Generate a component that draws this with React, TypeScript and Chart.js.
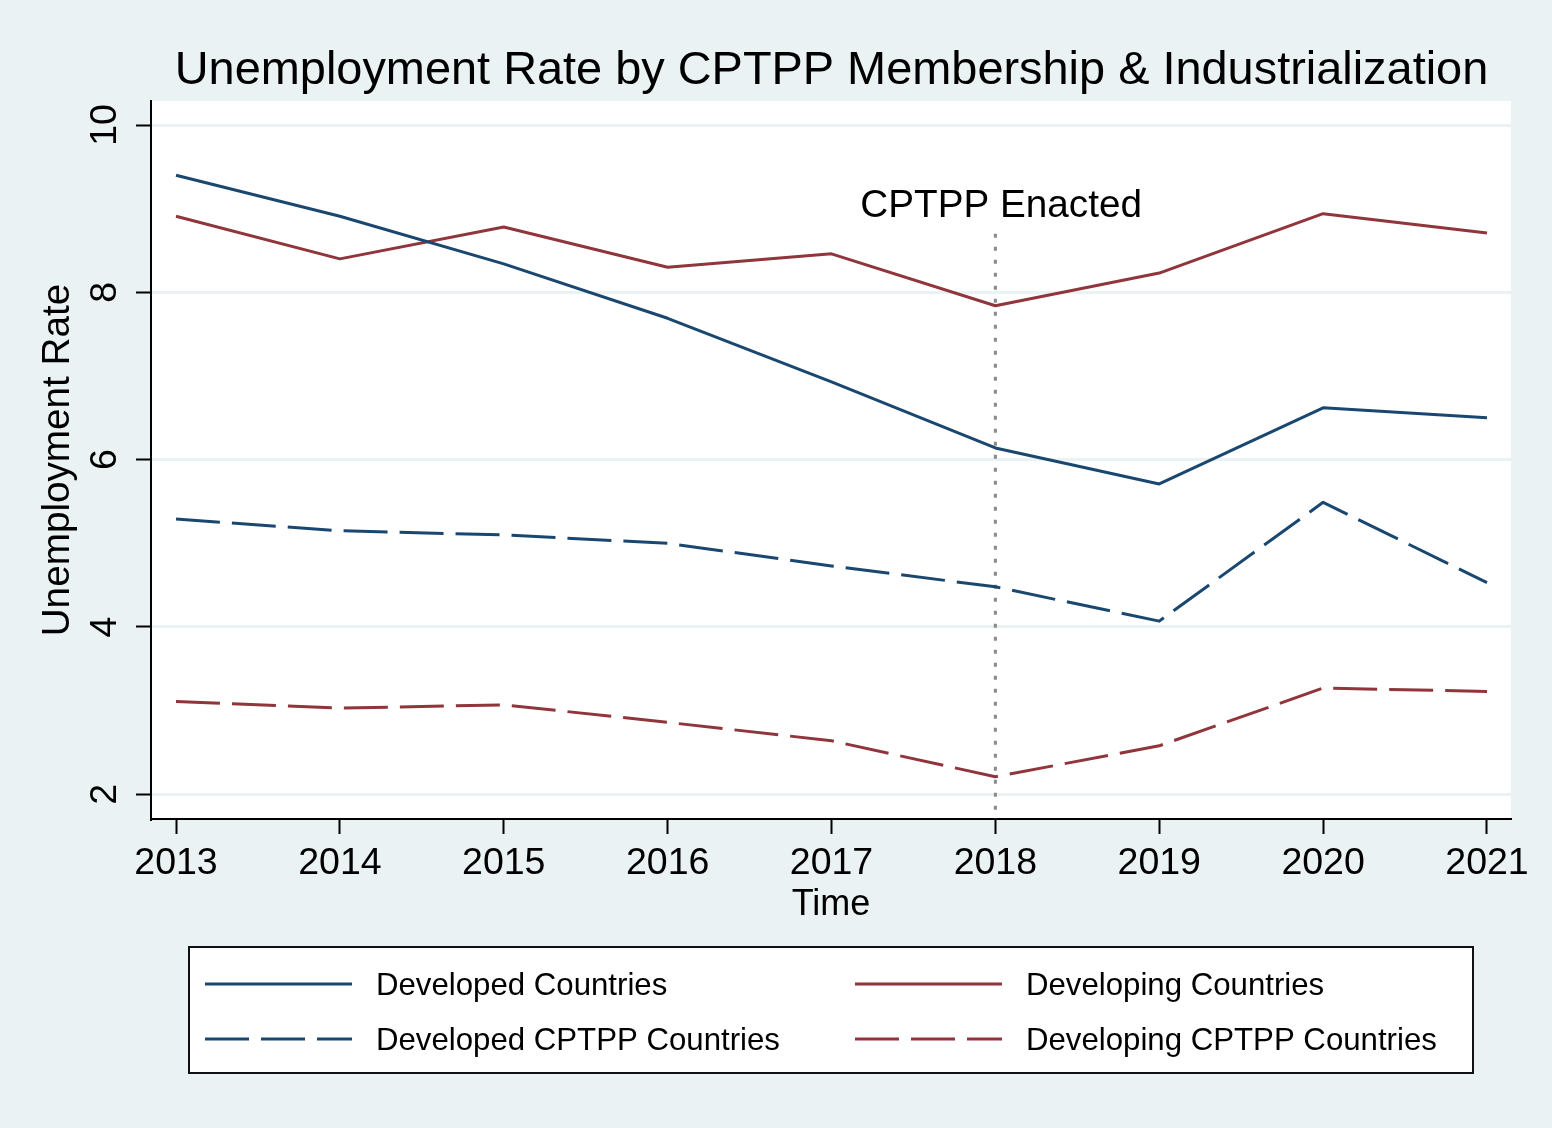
import React, { useEffect, useRef } from "react";
import { Chart, registerables } from "chart.js";

Chart.register(...registerables);

// ---------------- data ----------------
const years = [2013, 2014, 2015, 2016, 2017, 2018, 2019, 2020, 2021];
const developed = [9.4, 8.91, 8.34, 7.69, 6.93, 6.14, 5.71, 6.62, 6.5];
const developing = [8.91, 8.4, 8.78, 8.3, 8.46, 7.84, 8.23, 8.94, 8.71];
const developedCptpp = [5.29, 5.15, 5.1, 5.0, 4.73, 4.48, 4.07, 5.49, 4.53];
const developingCptpp = [3.11, 3.03, 3.07, 2.86, 2.64, 2.21, 2.58, 3.27, 3.23];

const seriesLabels = [
  "Developed Countries",
  "Developing Countries",
  "Developed CPTPP Countries",
  "Developing CPTPP Countries",
];
const yTickValues = [2, 4, 6, 8, 10];
const xTickValues = years;

const titleText = "Unemployment Rate by CPTPP Membership & Industrialization";
const xTitleText = "Time";
const yTitleText = "Unemployment Rate";

const enactYear = 2018;
const enactLineTop = 8.7;
const enactLabel = "CPTPP Enacted";
const enactLabelX = 2018.035;
const enactLabelY = 8.9;

// ---------------- styles ----------------
const FONT = "'Liberation Sans', Arial, Helvetica, sans-serif";
const NAVY = "#1a476f";
const MAROON = "#90353b";
const BG = "#eaf2f3";
const DASH = [44, 12];

const bgPlugin = {
  id: "bgPlugin",
  beforeDraw(chart: any) {
    const { ctx, chartArea } = chart;
    ctx.save();
    ctx.fillStyle = BG;
    ctx.fillRect(0, 0, chart.width, chart.height);
    ctx.fillStyle = "#ffffff";
    ctx.fillRect(
      chartArea.left,
      chartArea.top,
      chartArea.right - chartArea.left,
      chartArea.bottom - chartArea.top
    );
    ctx.restore();
  },
};

const enactPlugin = {
  id: "enactPlugin",
  beforeDatasetsDraw(chart: any) {
    const { ctx, scales, chartArea } = chart;
    const x = scales.x.getPixelForValue(enactYear);
    const yTop = scales.y.getPixelForValue(enactLineTop);
    ctx.save();
    ctx.strokeStyle = "#8a8a8a";
    ctx.lineWidth = 3;
    ctx.setLineDash([4, 9]);
    ctx.beginPath();
    ctx.moveTo(x, yTop);
    ctx.lineTo(x, chartArea.bottom);
    ctx.stroke();
    ctx.restore();
  },
  afterDraw(chart: any) {
    const { ctx, scales } = chart;
    ctx.save();
    ctx.fillStyle = "#000";
    ctx.font = `38.7px ${FONT}`;
    ctx.textAlign = "center";
    ctx.textBaseline = "alphabetic";
    ctx.fillText(
      enactLabel,
      scales.x.getPixelForValue(enactLabelX),
      scales.y.getPixelForValue(enactLabelY)
    );
    ctx.restore();
  },
};

const titlePlugin = {
  id: "titlePlugin",
  afterDraw(chart: any) {
    const { ctx, chartArea } = chart;
    ctx.save();
    ctx.fillStyle = "#000";
    ctx.font = `46.9px ${FONT}`;
    ctx.textAlign = "center";
    ctx.textBaseline = "alphabetic";
    ctx.fillText(titleText, (chartArea.left + chartArea.right) / 2 + 0.5, 84);
    ctx.restore();
  },
};

const legendPlugin = {
  id: "boxLegend",
  afterDraw(chart: any) {
    const { ctx } = chart;
    const box = { x: 189, y: 947, w: 1284, h: 126 };
    ctx.save();
    ctx.fillStyle = "#ffffff";
    ctx.fillRect(box.x, box.y, box.w, box.h);
    ctx.strokeStyle = "#111";
    ctx.lineWidth = 2;
    ctx.strokeRect(box.x, box.y, box.w, box.h);
    const colLineX = [205, 855];
    const lineLen = 147;
    const textGap = 24;
    const rowY = [984, 1039];
    chart.data.datasets.forEach((ds: any, i: number) => {
      const col = i % 2;
      const row = Math.floor(i / 2);
      const y = rowY[row];
      ctx.strokeStyle = ds.borderColor;
      ctx.lineWidth = 3;
      ctx.setLineDash(ds.borderDash || []);
      ctx.beginPath();
      ctx.moveTo(colLineX[col], y);
      ctx.lineTo(colLineX[col] + lineLen, y);
      ctx.stroke();
      ctx.setLineDash([]);
      ctx.fillStyle = "#000";
      ctx.font = `31.2px ${FONT}`;
      ctx.textAlign = "left";
      ctx.textBaseline = "middle";
      ctx.fillText(ds.label, colLineX[col] + lineLen + textGap, y + 2);
    });
    ctx.restore();
  },
};

function toPoints(values: number[]) {
  return years.map((yr, i) => ({ x: yr, y: values[i] }));
}

export default function App() {
  const canvasRef = useRef<HTMLCanvasElement | null>(null);

  useEffect(() => {
    const canvas = canvasRef.current;
    if (!canvas) return;
    const seriesValues = [developed, developing, developedCptpp, developingCptpp];
    const colors = [NAVY, MAROON, NAVY, MAROON];
    const dashes = [[], [], DASH, DASH];

    const chart = new Chart(canvas, {
      type: "line",
      data: {
        datasets: seriesValues.map((vals, i) => ({
          label: seriesLabels[i],
          data: toPoints(vals),
          borderColor: colors[i],
          backgroundColor: colors[i],
          borderWidth: 3,
          borderDash: dashes[i],
          pointRadius: 0,
          pointHoverRadius: 0,
          tension: 0,
          fill: false,
          borderJoinStyle: "round" as const,
        })),
      },
      plugins: [bgPlugin, enactPlugin, titlePlugin, legendPlugin],
      options: {
        animation: false,
        responsive: false,
        devicePixelRatio: 1,
        events: [],
        layout: {
          padding: { left: 0, top: 101, right: 41, bottom: 201 },
        },
        plugins: {
          legend: { display: false },
          title: { display: false },
          tooltip: { enabled: false },
        },
        scales: {
          x: {
            type: "linear",
            min: 2012.8474,
            max: 2021.1465,
            afterBuildTicks: (scale: any) => {
              scale.ticks = xTickValues.map((v) => ({ value: v }));
            },
            afterFit: (scale: any) => {
              scale.height = 108;
            },
            ticks: {
              color: "#000",
              font: { family: FONT, size: 37.5 },
              padding: 7,
              autoSkip: false,
              maxRotation: 0,
              minRotation: 0,
              callback: (v: any) => String(v),
            },
            grid: {
              drawOnChartArea: false,
              drawTicks: true,
              tickLength: 15,
              tickColor: "#000",
              tickWidth: 2,
            },
            border: { display: true, color: "#000", width: 2 },
            title: {
              display: true,
              text: xTitleText,
              color: "#000",
              font: { family: FONT, size: 36 },
              padding: { top: 0, bottom: 0 },
            },
          },
          y: {
            type: "linear",
            min: 1.705,
            max: 10.287,
            afterBuildTicks: (scale: any) => {
              scale.ticks = yTickValues.map((v) => ({ value: v }));
            },
            afterFit: (scale: any) => {
              scale.width = 151;
            },
            ticks: {
              color: "#000",
              font: { family: FONT, size: 37.5 },
              padding: 9,
              minRotation: 90,
              maxRotation: 90,
              crossAlign: "center",
              autoSkip: false,
              callback: (v: any) => String(v),
            },
            grid: {
              drawOnChartArea: true,
              color: BG,
              lineWidth: 3,
              drawTicks: true,
              tickLength: 15,
              tickColor: "#000",
              tickWidth: 2,
            },
            border: { display: true, color: "#000", width: 2 },
            title: {
              display: true,
              text: yTitleText,
              color: "#000",
              font: { family: FONT, size: 38.7 },
              padding: { top: 35, bottom: 0 },
            },
          },
        },
      } as any,
    });

    return () => {
      chart.destroy();
    };
  }, []);

  return (
    <div
      style={{
        position: "absolute",
        left: 0,
        top: 0,
        width: 1552,
        height: 1128,
        background: BG,
      }}
    >
      <canvas
        ref={canvasRef}
        width={1552}
        height={1128}
        style={{ width: 1552, height: 1128, display: "block" }}
      />
    </div>
  );
}
